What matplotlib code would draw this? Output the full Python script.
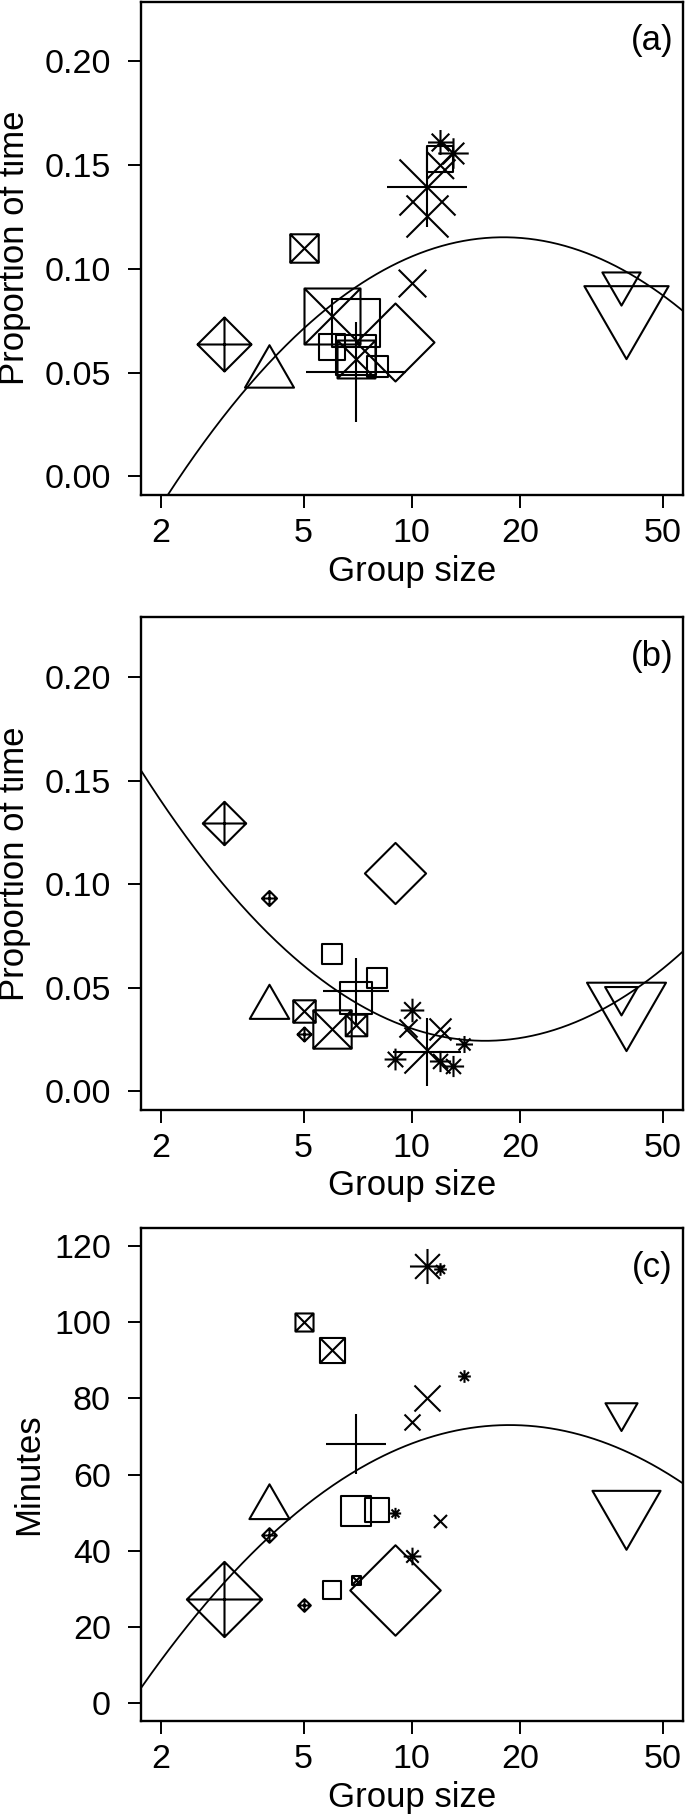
import numpy as np
import matplotlib
matplotlib.use('Agg')
import matplotlib.pyplot as plt
from matplotlib.path import Path
from matplotlib.ticker import FixedLocator, NullLocator

plt.rcParams['font.family'] = ['Liberation Sans', 'DejaVu Sans']

# ---- data ----
# symbols follow R's pch: sq=0, tri_up=2, plus=3, x=4, dia=5, tri_dn=6,
# sqx=7, ast=8, dplus=9 ; cex = relative symbol size
sym_a = ['dplus', 'tri_up', 'sqx', 'sqx', 'sq', 'sq', 'sqx', 'sq', 'sq', 'plus', 'dia',
         'x', 'x', 'x', 'plus', 'sq', 'x', 'ast', 'ast', 'tri_dn', 'tri_dn']
gs_a = [3, 4, 5, 6, 6, 7, 7, 7, 8, 7, 9,
        10, 11, 11, 11, 12, 12, 12, 13, 38.3, 39.4]
prop_a = [0.064, 0.050, 0.110, 0.0775, 0.0625, 0.074, 0.0567, 0.0585, 0.053, 0.0502, 0.0647,
          0.093, 0.1396, 0.1255, 0.1396, 0.1528, 0.150, 0.1612, 0.156, 0.0934, 0.0803]
cex_a = [2.73, 2.6, 2.03, 4.0, 1.8, 3.37, 2.71, 2.79, 1.5, 5.07, 3.94,
         1.97, 4.0, 3.0, 4.09, 1.9, 1.93, 1.26, 1.54, 2.03, 4.47]

sym_b = ['dplus', 'dplus', 'dia', 'sq', 'sq', 'plus', 'sq', 'tri_up', 'sqx', 'sqx', 'sqx',
         'dplus', 'tri_dn', 'tri_dn', 'ast', 'ast', 'x', 'plus', 'x', 'x', 'ast', 'ast', 'ast']
gs_b = [3, 4, 9, 6, 8, 7, 7, 4, 5, 6, 7,
        5, 39.4, 38.3, 9, 10, 9.75, 11, 11, 12, 12, 13, 14]
prop_b = [0.1293, 0.0935, 0.1055, 0.0665, 0.0549, 0.0483, 0.0449, 0.0409, 0.0389, 0.0303, 0.0319,
          0.0275, 0.0415, 0.0458, 0.0158, 0.0391, 0.0305, 0.019, 0.0198, 0.030, 0.0145, 0.0122, 0.0228]
cex_b = [2.19, 0.76, 3.09, 1.36, 1.43, 3.37, 2.29, 2.09, 1.6, 2.74, 1.54,
         0.71, 4.19, 1.74, 1.1, 1.19, 1.29, 3.43, 3.29, 1.57, 1.07, 1.07, 0.86]

sym_c = ['dplus', 'dplus', 'tri_up', 'dplus', 'sqx', 'sqx', 'sq', 'sqx', 'plus', 'sq', 'sq',
         'ast', 'dia', 'ast', 'x', 'x', 'ast', 'ast', 'ast', 'x', 'tri_dn', 'tri_dn']
gs_c = [3, 4, 4, 5, 5, 6, 6, 7, 7, 7, 8,
        9, 9, 10, 10, 11, 11, 12, 14, 12, 39.4, 38.3]
min_c = [27.4, 44.0, 51.5, 25.8, 100.0, 92.8, 29.6, 32.2, 68.0, 50.4, 50.6,
         49.9, 29.6, 38.6, 73.9, 80.1, 114.8, 113.9, 85.8, 47.7, 50.7, 76.5]
cex_c = [3.8, 0.74, 2.13, 0.64, 1.29, 1.79, 1.31, 0.64, 3.04, 2.14, 1.77,
         0.57, 4.57, 0.89, 1.14, 1.86, 1.77, 0.64, 0.64, 0.93, 3.61, 1.7]

# fitted quadratic in log10(group size): peak/trough position, height, curvature
fit_a = (18.0, 0.1152, -0.1421)
fit_b = (16.0, 0.0244, 0.14213)
fit_c = (18.7, 73.0, -65.68)

x_ticks = [2, 5, 10, 20, 50]
XLIM = (10 ** (np.log10(2) - 0.04 * np.log10(25)), 10 ** (np.log10(50) + 0.04 * np.log10(25)))

# ---- R style symbols ----
R2 = np.sqrt(2)
T0, T1, T2 = 1.5551, 1.3468, 0.7776


def make_path(polys):
    verts, codes = [], []
    for pts, closed in polys:
        verts += pts
        codes += [Path.MOVETO] + [Path.LINETO] * (len(pts) - 1)
        if closed:
            verts.append(pts[0])
            codes.append(Path.CLOSEPOLY)
    return Path(verts, codes)


SQ = ([(-1, -1), (1, -1), (1, 1), (-1, 1)], True)
XX = [([(-1, -1), (1, 1)], False), ([(-1, 1), (1, -1)], False)]
PL = [([(-R2, 0), (R2, 0)], False), ([(0, -R2), (0, R2)], False)]
DI = ([(R2, 0), (0, R2), (-R2, 0), (0, -R2)], True)
paths = {
    'sq': make_path([SQ]),
    'sqx': make_path([SQ] + XX),
    'plus': make_path(PL),
    'x': make_path(XX),
    'dia': make_path([DI]),
    'dplus': make_path([DI] + PL),
    'ast': make_path(XX + PL),
    'tri_up': make_path([([(0, T0), (T1, -T2), (-T1, -T2)], True)]),
    'tri_dn': make_path([([(0, -T0), (T1, T2), (-T1, T2)], True)]),
}
UNIT = 7 * 0.72  # points per cex unit


def draw_points(ax, gs, val, sym, cex):
    for x, y, s, c in zip(gs, val, sym, cex):
        p = paths[s]
        ms = 2 * np.abs(p.vertices).max() * c * UNIT
        ax.plot([x], [y], ls='none', marker=p, ms=ms, mfc='none',
                mec='black', mew=1.5)


def draw_fit(ax, fit):
    px, py, k = fit
    L = np.linspace(np.log10(XLIM[0]), np.log10(XLIM[1]), 300)
    ax.plot(10 ** L, py + k * (L - np.log10(px)) ** 2, color='black', lw=1.3)


def setup(ax, ylim, yticks, ylabel, fmt, ylab_x, tag):
    ax.set_xscale('log')
    ax.set_xlim(XLIM)
    ax.set_ylim(ylim)
    ax.xaxis.set_major_locator(FixedLocator(x_ticks))
    ax.xaxis.set_minor_locator(NullLocator())
    ax.set_xticklabels([str(t) for t in x_ticks])
    ax.yaxis.set_major_locator(FixedLocator(yticks))
    ax.set_yticklabels([fmt.format(t) for t in yticks])
    ax.tick_params(axis='both', direction='out', length=9.5, width=1.4,
                   labelsize=24.5, top=False, right=False)
    ax.tick_params(axis='y', pad=12)
    ax.tick_params(axis='x', pad=7)
    for sp in ax.spines.values():
        sp.set_linewidth(1.7)
    ax.set_xlabel('Group size', fontsize=25, va='center')
    ax.xaxis.set_label_coords(0.5, -0.155)
    ax.set_ylabel(ylabel, fontsize=25, va='center')
    ax.yaxis.set_label_coords(ylab_x, 0.5)
    ax.text(0.943, 0.92, tag, transform=ax.transAxes, fontsize=25,
            ha='center', va='center')


fig = plt.figure(figsize=(6.85, 18.17), dpi=100)
left, width = 0.2054, 0.7915
ax_a = fig.add_axes([left, 0.72779, width, 0.27138])
ax_b = fig.add_axes([left, 0.38932, width, 0.27094])
ax_c = fig.add_axes([left, 0.05283, width, 0.27133])

prop_ticks = [0.0, 0.05, 0.10, 0.15, 0.20]
min_ticks = [0, 20, 40, 60, 80, 100, 120]

draw_fit(ax_a, fit_a)
draw_points(ax_a, gs_a, prop_a, sym_a, cex_a)
setup(ax_a, (-0.0088, 0.2288), prop_ticks, 'Proportion of time', '{:.2f}', -0.232, '(a)')

draw_fit(ax_b, fit_b)
draw_points(ax_b, gs_b, prop_b, sym_b, cex_b)
setup(ax_b, (-0.0088, 0.2288), prop_ticks, 'Proportion of time', '{:.2f}', -0.232, '(b)')

draw_fit(ax_c, fit_c)
draw_points(ax_c, gs_c, min_c, sym_c, cex_c)
setup(ax_c, (-4.8, 124.8), min_ticks, 'Minutes', '{:d}', -0.2075, '(c)')

fig.savefig('out.png', dpi=100)
